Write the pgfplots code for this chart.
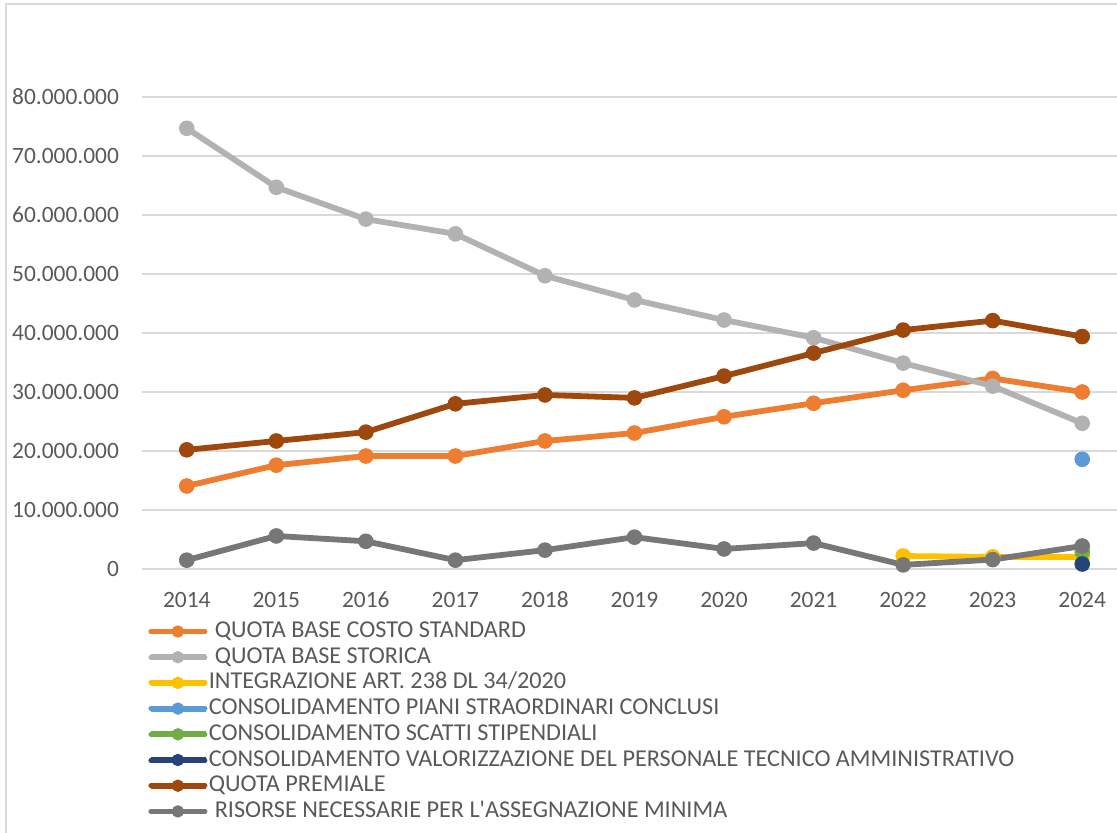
\documentclass[border=0pt]{standalone}
\usepackage{pgfplots}
\pgfplotsset{compat=1.18}
\usepackage{fontspec}
\setmainfont{Carlito}
\newfontfamily\nomap{Carlito}

\definecolor{cOrange}{HTML}{ED7D31}
\definecolor{cLGray}{HTML}{B2B2B2}
\definecolor{cYellow}{HTML}{FFC000}
\definecolor{cBlue}{HTML}{5B9BD5}
\definecolor{cGreen}{HTML}{70AD47}
\definecolor{cNavy}{HTML}{264478}
\definecolor{cBrown}{HTML}{9E480E}
\definecolor{cDGray}{HTML}{777777}
\definecolor{txt}{HTML}{595959}
\definecolor{grd}{HTML}{D9D9D9}

\pgfplotsset{
  serie/.style={color=#1, line width=2.9pt, mark=*, mark size=3.6pt,
    mark options={solid, fill=#1, draw=#1, line width=0.6pt}},
}

\begin{document}
\begin{tikzpicture}
\begin{axis}[
    at={(0,0)}, anchor=south west,
    scale only axis,
    width=492.5pt, height=236pt,
    xmin=2013.5, xmax=2024.5,
    ymin=0, ymax=80000000,
    xtick={2014,...,2024},
    ytick={0,10000000,...,80000000},
    xticklabel={\pgfmathprintnumber[fixed, precision=0, 1000 sep={}, assume math mode=true]{\tick}},
    yticklabel={\pgfmathprintnumber[fixed, precision=0, 1000 sep={.}, assume math mode=true]{\tick}},
    scaled y ticks=false,
    major tick length=0pt,
    tick label style={font=\fontsize{11.7}{13}\selectfont, text=txt},
    xticklabel style={yshift=-7.75pt, text height=8pt, text depth=0pt},
    yticklabel style={xshift=-8pt},
    axis line style={draw=none},
    ymajorgrids,
    grid style={color=grd, line width=0.75pt},
    clip=false,
    legend cell align=left,
    legend style={at={(0,0)}, anchor=north west, xshift=3pt, yshift=-25.75pt,
      draw=none, fill=none, inner sep=0pt, outer sep=0pt, row sep=1.85pt,
      font=\fontsize{12.1}{13}\selectfont, text=txt,
      nodes={inner sep=0pt, outer sep=0pt, text height=8.5pt, text depth=2.5pt}},
    legend image code/.code={
      \draw[#1, line width=2.5pt, line cap=round] (0pt,0pt) -- (27pt,0pt);
      \draw[#1, only marks, mark size=2.8pt] plot coordinates {(13.5pt,0pt)};
      \path (0pt,0pt) -- (27.5pt,0pt);
    },
]
\addplot[serie=cOrange] coordinates {
  (2014,14070000) (2015,17600000) (2016,19150000) (2017,19150000)
  (2018,21700000) (2019,23050000) (2020,25800000) (2021,28100000)
  (2022,30300000) (2023,32300000) (2024,30000000)};
\addlegendentry{\hspace{3pt}QUOTA BASE COSTO STANDARD}
\addplot[serie=cLGray] coordinates {
  (2014,74700000) (2015,64700000) (2016,59300000) (2017,56800000)
  (2018,49700000) (2019,45600000) (2020,42200000) (2021,39200000)
  (2022,34900000) (2023,31000000) (2024,24700000)};
\addlegendentry{\hspace{3pt}QUOTA BASE STORICA}
\addplot[serie=cYellow] coordinates {
  (2022,2200000) (2023,2050000) (2024,2050000)};
\addlegendentry{INTEGRAZIONE ART. 238 DL 34/2020}
\addplot[serie=cBlue] coordinates {(2024,18600000)};
\addlegendentry{CONSOLIDAMENTO PIANI STRAORDINARI CONCLUSI}
\addplot[serie=cGreen] coordinates {(2024,2900000)};
\addlegendentry{CONSOLIDAMENTO SCATTI STIPENDIALI}
\addplot[serie=cNavy] coordinates {(2024,850000)};
\addlegendentry{CONSOLIDAMENTO VALORIZZAZIONE DEL PERSONALE TECNICO AMMINISTRATIVO}
\addplot[serie=cBrown] coordinates {
  (2014,20200000) (2015,21700000) (2016,23200000) (2017,28000000)
  (2018,29500000) (2019,29000000) (2020,32700000) (2021,36600000)
  (2022,40500000) (2023,42100000) (2024,39400000)};
\addlegendentry{QUOTA PREMIALE}
\addplot[serie=cDGray] coordinates {
  (2014,1500000) (2015,5600000) (2016,4700000) (2017,1500000)
  (2018,3200000) (2019,5400000) (2020,3400000) (2021,4400000)
  (2022,700000) (2023,1600000) (2024,3900000)};
\addlegendentry{\hspace{3pt}RISORSE NECESSARIE PER L{\nomap'}ASSEGNAZIONE MINIMA}
\end{axis}
\draw[grd, line width=0.75pt] (-68pt,-200pt) -- (-68pt,282.5pt) -- (520pt,282.5pt);
\pgfresetboundingbox
\useasboundingbox (-71pt,-131.5pt) rectangle (487.5pt,284.5pt);
\end{tikzpicture}
\end{document}
